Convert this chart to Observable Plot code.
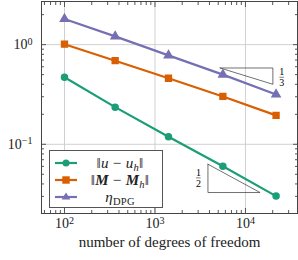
<!DOCTYPE html>
<html><head><meta charset="utf-8">
<script src="https://cdn.jsdelivr.net/npm/d3@7"></script>
<script src="https://cdn.jsdelivr.net/npm/@observablehq/plot@0.6"></script>
<style>
body{margin:0;background:#fff;}
#wrap{position:relative;width:298px;height:260px;font-family:"Liberation Serif",serif;}
#wrap svg text{font-family:"Liberation Serif",serif;}
.legend{position:absolute;left:49px;top:150px;width:114px;height:58px;border:1px solid #555;background:#fff;box-sizing:border-box;font-size:15px;padding-top:4px;font-family:"Liberation Serif",serif;color:#222}
.row{display:flex;align-items:center;height:16.8px}
.row svg{flex:none;margin-left:4px}
.row span{flex:1;text-align:center;white-space:nowrap;letter-spacing:0.3px}
sub{font-size:0.7em;vertical-align:-0.3em;line-height:0}
</style></head>
<body><div id="wrap"></div>
<script>
const dofs = [100, 363, 1410, 5630, 21800];
const errU = [0.471, 0.236, 0.119, 0.0603, 0.0302];
const errM = [1.01, 0.69, 0.46, 0.302, 0.195];
const etaDPG = [1.81, 1.21, 0.78, 0.50, 0.316];
const seriesNames = ["u", "M", "eta"];
const colors = ["#1b9e77", "#d95f02", "#7570b3"];
const symbols = ["circle", "square", "triangle"];
const xMajor = [100, 1000, 10000];
const yMajor = [0.1, 1];
const xLabel = "number of degrees of freedom";
// slope triangles (annotation)
const slope13 = [{x:5250,y:0.583},{x:20100,y:0.583},{x:20100,y:0.40},{x:5250,y:0.583}];
const slope12 = [{x:3850,y:0.0631},{x:3850,y:0.0328},{x:14500,y:0.0328},{x:3850,y:0.0631}];
const fracs = [{x:25200,y:0.471,num:"1",den:"3"},{x:3020,y:0.046,num:"1",den:"2"}];

const allSeries = [errU, errM, etaDPG];
const data = [];
allSeries.forEach((vals, s) => vals.forEach((v, i) => data.push({series: seriesNames[s], x: dofs[i], y: v})));

const xMinor = [], yMinor = [];
for (let e = 1; e <= 4; e++) for (let k = 2; k <= 9; k++) { const v = k * 10 ** e; if (v > 55 && v < 37600) xMinor.push(v); }
for (let e = -2; e <= 0; e++) for (let k = 2; k <= 9; k++) { const v = k * 10 ** e; if (v > 0.0202 && v < 2.71) yMinor.push(v); }

const fmt = d => "10^" + Math.round(Math.log10(d));
const font = "Liberation Serif";

const plot = Plot.plot({
  width: 298, height: 260,
  marginLeft: 41, marginRight: 1, marginTop: 1, marginBottom: 47,
  style: {fontFamily: "'Liberation Serif', serif", fontSize: "14px", color: "#222", background: "#fff"},
  x: {type: "log", domain: [55.7, 37600]},
  y: {type: "log", domain: [0.0202, 2.71]},
  color: {domain: seriesNames, range: colors},
  symbol: {domain: seriesNames, range: symbols},
  marks: [
    Plot.gridX(xMajor, {stroke: "#d0d0d0", strokeOpacity: 1}),
    Plot.gridY(yMajor, {stroke: "#d0d0d0", strokeOpacity: 1}),
    Plot.axisX(xMinor, {anchor: "bottom", tickSize: -3, tickFormat: () => "", label: null, stroke: "#555"}),
    Plot.axisX(xMinor, {anchor: "top", tickSize: -3, tickFormat: () => "", label: null, stroke: "#555"}),
    Plot.axisY(yMinor, {anchor: "left", tickSize: -3, tickFormat: () => "", label: null, stroke: "#555"}),
    Plot.axisY(yMinor, {anchor: "right", tickSize: -3, tickFormat: () => "", label: null, stroke: "#555"}),
    Plot.axisX(xMajor, {anchor: "bottom", tickSize: -5, tickFormat: () => "", label: null, stroke: "#555"}),
    Plot.axisX(xMajor, {anchor: "top", tickSize: -5, tickFormat: () => "", label: null, stroke: "#555"}),
    Plot.axisY(yMajor, {anchor: "left", tickSize: -5, tickFormat: () => "", label: null, stroke: "#555"}),
    Plot.axisY(yMajor, {anchor: "right", tickSize: -5, tickFormat: () => "", label: null, stroke: "#555"}),
    Plot.axisX(xMajor, {anchor: "bottom", tickSize: 0, tickPadding: 5, tickFormat: fmt, label: null, fontSize: 14, fontFamily: font, fill: "#222"}),
    Plot.axisY(yMajor, {anchor: "left", tickSize: 0, tickPadding: 9, tickFormat: fmt, label: null, fontSize: 14, fontFamily: font, fill: "#222"}),
    Plot.text([xLabel], {frameAnchor: "bottom", dy: 33, fontSize: 15, fontFamily: font, fill: "#222", letterSpacing: "0.5px"}),
    Plot.line(slope13, {x: "x", y: "y", stroke: "#333", strokeWidth: 0.7}),
    Plot.line(slope12, {x: "x", y: "y", stroke: "#333", strokeWidth: 0.7}),
    Plot.text(fracs, {x: "x", y: "y", text: "num", dy: -5, fontSize: 10, fontFamily: font, fill: "black"}),
    Plot.text(fracs, {x: "x", y: "y", text: "den", dy: 6, fontSize: 10, fontFamily: font, fill: "black"}),
    Plot.link(fracs, {x1: d => d.x * 0.94, x2: d => d.x * 1.06, y1: "y", y2: "y", stroke: "black", strokeWidth: 0.5}),
    Plot.line(data, {x: "x", y: "y", z: "series", stroke: "series", strokeWidth: 2.2}),
    Plot.dot(data, {x: "x", y: "y", fill: "series", stroke: "series", symbol: "series", r: d => d.series === "M" ? 4.2 : 3.5}),
    Plot.frame({stroke: "#444"})
  ]
});
document.getElementById("wrap").appendChild(plot);

// render exponents as superscripts
d3.select(plot).selectAll("text").each(function() {
  const t = d3.select(this);
  const s = t.text();
  const m = s.match(/^10\^(-?\d+)$/);
  if (!m) return;
  t.text("");
  t.append("tspan").text("10");
  t.append("tspan").attr("dy", "-0.45em").attr("font-size", "0.72em").text(m[1].replace("-", "\u2212"));
});

// legend (HTML)
const labels = [
  '\u2016<i>u</i> \u2212 <i>u</i><sub><i>h</i></sub>\u2016',
  '\u2016<b><i>M</i></b> \u2212 <b><i>M</i></b><sub><i>h</i></sub>\u2016',
  '<i>\u03b7</i><sub>DPG</sub>'
];
const leg = document.createElement("div");
leg.className = "legend";
seriesNames.forEach((s, i) => {
  const row = document.createElement("div");
  row.className = "row";
  const c = colors[i];
  let marker;
  if (symbols[i] === "circle") marker = `<circle cx="12" cy="8" r="3.5" fill="${c}"/>`;
  else if (symbols[i] === "square") marker = `<rect x="8.3" y="4.3" width="7.4" height="7.4" fill="${c}"/>`;
  else marker = `<path d="M12,3.5L16.3,10.5L7.7,10.5Z" fill="${c}"/>`;
  row.innerHTML = `<svg width="24" height="16"><line x1="1" x2="23" y1="8" y2="8" stroke="${c}" stroke-width="2.2"/>${marker}</svg><span>${labels[i]}</span>`;
  leg.appendChild(row);
});
document.getElementById("wrap").appendChild(leg);
</script>
</body></html>
